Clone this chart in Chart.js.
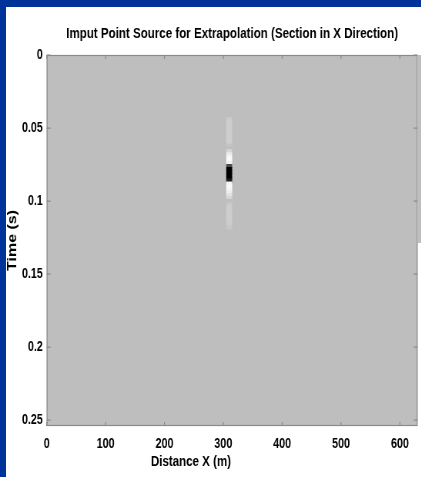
<!DOCTYPE html>
<html>
<head>
<meta charset="utf-8">
<title>Point source section</title>
<script src="https://cdn.jsdelivr.net/npm/chart.js@4"></script>
<style>
  html, body { margin: 0; padding: 0; background: #fff; }
  body { width: 421px; height: 477px; position: relative; overflow: hidden; }
  /* the figure is laid out wide and squeezed horizontally */
  #stage { position: absolute; left: 0; top: 0; width: 547px; height: 477px;
           transform: scaleX(0.77); transform-origin: 0 0; }
  #strip { position: absolute; left: 418px; top: 55px; width: 3px; height: 188px; background: #bebebe; }
  .edge { position: absolute; background: #003399; }
</style>
</head>
<body>
<div id="stage"><canvas id="section" width="547" height="477"></canvas></div>
<div id="strip"></div>
<div class="edge" style="left:0;top:0;width:421px;height:7px"></div>
<div class="edge" style="left:0;top:0;width:6px;height:477px"></div>
<script>
const TITLE = 'Imput Point Source for Extrapolation (Section in X Direction)';
const X_TITLE = 'Distance X (m)';
const Y_TITLE = 'Time (s)';

const xTicks = [0, 100, 200, 300, 400, 500, 600];
const yTicks = [0, 0.05, 0.1, 0.15, 0.2, 0.25];

// x extent of the source trace (m)
const traceSpan = [305, 315];

// sample times (s) and wavelet amplitude (+1 black, -1 white, 0 background)
const sampleTimes = [
  0.044, 0.046, 0.048, 0.050, 0.052, 0.054, 0.056, 0.058, 0.060, 0.062,
  0.064, 0.066, 0.068, 0.070, 0.072, 0.074, 0.076, 0.078, 0.080, 0.082,
  0.084, 0.086, 0.088, 0.090, 0.092, 0.094, 0.096, 0.098, 0.100, 0.102,
  0.104, 0.106, 0.108, 0.110, 0.112, 0.114, 0.116, 0.118
];
const amplitudes = [
  -0.22, -0.25, -0.25, -0.25, -0.25, -0.25, -0.25, -0.27, -0.27, -0.1,
  0, -0.4, -0.75, -0.95, -1, -0.85, 0.6, 1, 1, 1,
  1, 0.85, -0.9, -1, -0.95, -0.8, -0.6, -0.4, 0, -0.15,
  -0.25, -0.25, -0.25, -0.25, -0.25, -0.25, -0.22, -0.15
];

const PLOT_GRAY = 'rgb(190,190,190)';
const FONT = "'Liberation Sans', Arial, sans-serif";

function shade(v) {
  const g = v >= 0 ? Math.round(190 * (1 - v)) : Math.round(190 + 60 * -v);
  return `rgb(${g},${g},${g})`;
}

// gray panel, box outline, inward ticks on all four sides, x caption
const sectionFrame = {
  id: 'sectionFrame',
  beforeDatasetsDraw(chart) {
    const { ctx, chartArea: a } = chart;
    ctx.save();
    ctx.fillStyle = PLOT_GRAY;
    ctx.fillRect(a.left, a.top, a.right - a.left, a.bottom - a.top);
    ctx.restore();
  },
  afterDatasetsDraw(chart) {
    const { ctx, chartArea: a, scales: { x, y } } = chart;
    ctx.save();
    ctx.strokeStyle = '#8a8a8a';
    ctx.lineWidth = 1.2;
    ctx.strokeRect(a.left + 0.5, a.top + 0.5, a.right - a.left - 1, a.bottom - a.top - 1);
    ctx.beginPath();
    xTicks.forEach(v => {
      const px = x.getPixelForValue(v);
      ctx.moveTo(px, a.top); ctx.lineTo(px, a.top + 4);
      ctx.moveTo(px, a.bottom); ctx.lineTo(px, a.bottom - 4);
    });
    yTicks.forEach(v => {
      const py = y.getPixelForValue(v);
      ctx.moveTo(a.left, py); ctx.lineTo(a.left + 5, py);
      ctx.moveTo(a.right, py); ctx.lineTo(a.right - 5, py);
    });
    ctx.stroke();

    ctx.fillStyle = '#000';
    ctx.font = 'bold 15px ' + FONT;
    ctx.textAlign = 'center';
    ctx.textBaseline = 'middle';
    ctx.fillText(X_TITLE, a.left + (a.right - a.left) * 0.389, x.top + 36);
    ctx.restore();
  }
};

Chart.defaults.font.family = FONT;

new Chart(document.getElementById('section'), {
  type: 'bar',
  data: {
    datasets: [{
      data: sampleTimes.map(t => ({ y: t, x: [traceSpan[0], traceSpan[1]] })),
      backgroundColor: amplitudes.map(shade),
      borderWidth: 0,
      inflateAmount: 0,
      categoryPercentage: 1,
      barPercentage: 1.4
    }]
  },
  options: {
    indexAxis: 'y',
    responsive: false,
    animation: false,
    layout: { padding: { left: 2.65, right: 4.7, top: 0, bottom: 0 } },
    plugins: {
      legend: { display: false },
      tooltip: { enabled: false },
      title: {
        display: true,
        text: TITLE,
        fullSize: false,
        color: '#000',
        font: { size: 15, weight: 'bold' },
        padding: { top: 25, bottom: 12 }
      }
    },
    scales: {
      x: {
        type: 'linear',
        min: 0,
        max: 630,
        grid: { display: false, drawTicks: false },
        border: { display: false },
        afterBuildTicks: s => { s.ticks = xTicks.map(v => ({ value: v })); },
        afterFit: s => { s.height = 51; },
        ticks: {
          color: '#000',
          padding: 10,
          maxRotation: 0,
          autoSkip: false,
          font: { size: 14, weight: 'bold' },
          callback: v => String(v)
        }
      },
      y: {
        type: 'linear',
        min: 0,
        max: 0.254,
        reverse: true,
        offset: false,
        grid: { display: false, drawTicks: false, offset: false },
        border: { display: false },
        afterBuildTicks: s => { s.ticks = yTicks.map(v => ({ value: v })); },
        afterFit: s => { s.width = 58; },
        ticks: {
          color: '#000',
          padding: 5,
          autoSkip: false,
          font: { size: 14, weight: 'bold' },
          callback: v => String(v)
        },
        title: {
          display: true,
          text: Y_TITLE,
          color: '#000',
          font: { size: 16, weight: 'bold' },
          padding: { top: 4, bottom: 4 }
        }
      }
    }
  },
  plugins: [sectionFrame]
});
</script>
</body>
</html>
